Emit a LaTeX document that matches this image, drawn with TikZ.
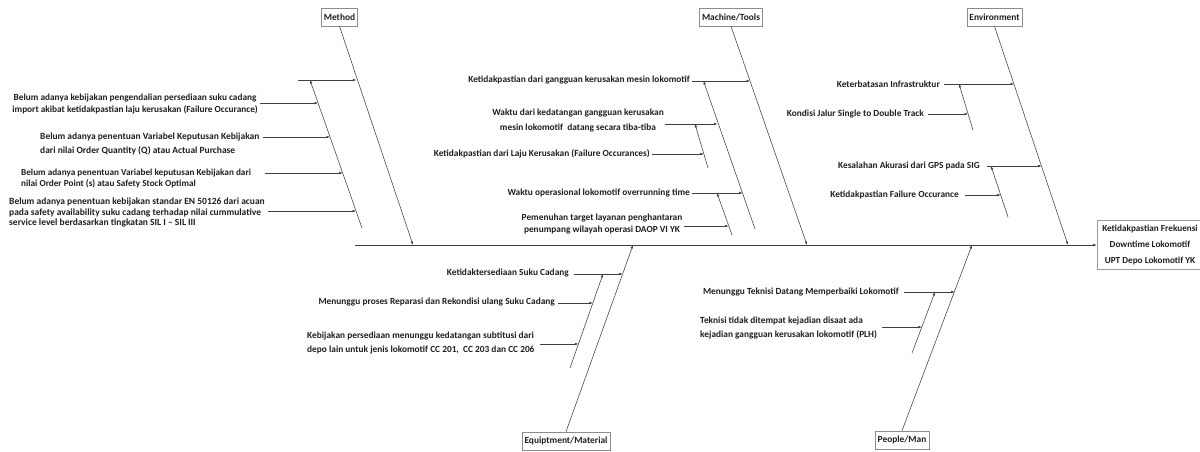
\documentclass[tikz,border=0pt]{standalone}
\usepackage{fontspec}
\setmainfont{Carlito}
\usetikzlibrary{arrows.meta}
\newcommand{\fs}[2]{\fontsize{#1}{#2}\selectfont\bfseries}
\begin{document}
\begin{tikzpicture}[x=1pt,y=-1pt,
  bone/.style={draw=black!75,line width=0.55pt,-{Latex[length=3.5pt,width=2.6pt]}},
  txt/.style={inner sep=0pt,font=\fs{9.35}{12},text=black!88},
  cat/.style={draw=black!45,line width=0.6pt,fill=white,inner sep=2.5pt,minimum height=18pt,font=\fs{9.4}{11},text=black!88},
  headbox/.style={draw=black!40,line width=0.6pt,fill=white,align=center,inner sep=3pt,minimum width=106pt,minimum height=49pt,font=\fs{9.2}{16},text=black!88}
]
\useasboundingbox (0,0) rectangle (1200,452);
\fill[white] (0,0) rectangle (1200,452);

% ---------- head and spine ----------
\node[headbox] (head) at (1150,244.5) {Ketidakpastian Frekuensi\\Downtime Lokomotif\\UPT Depo Lokomotif YK};
\coordinate (spineL) at (355,245);
\draw[bone] (spineL) -- (head.west |- spineL);

% ---------- category boxes ----------
\node[cat] (method) at (339.5,17) {Method};
\node[cat] (machine) at (731,17) {Machine/Tools};
\node[cat] (env) at (994.5,17) {Environment};
\node[cat] (equip) at (566,441) {Equiptment/Material};
\node[cat] (people) at (902,440) {People/Man};

% main bones
\coordinate (mB) at (413,245);
\coordinate (kB) at (807,245);
\coordinate (eB) at (1068,245);
\coordinate (qB) at (633,245);
\coordinate (pB) at (972,245);
\draw[bone] (method.south) -- (mB);
\draw[bone] (machine.south) -- (kB);
\draw[bone] (env.south) -- (eB);
\draw[bone] (equip.north) -- (qB);
\draw[bone] (people.north) -- (pB);

% ---------- Method ----------
\coordinate (m0s) at (298,80);
\coordinate (m0e) at (356.4,80);
\draw[bone] (m0s) -- (m0e);
\coordinate (mdB) at (362,228);
\coordinate (mdT) at (310,80);
\draw[bone] (mdB) -- (mdT);

\node[txt,align=center,anchor=east,font=\fs{9.3}{12}] (m1) at (258,104)
  {Belum adanya kebijakan pengendalian persediaan suku cadang\\import akibat ketidakpastian laju kerusakan (Failure Occurance)};
\coordinate (m1s) at (260,103);
\coordinate (m1e) at (318.1,103);
\draw[bone] (m1s) -- (m1e);

\node[txt,align=left,anchor=west,font=\fs{9.45}{14}] (m2) at (40,143.5)
  {Belum adanya penentuan Variabel Keputusan Kebijakan\\dari nilai Order Quantity (Q) atau Actual Purchase};
\coordinate (m2s) at (263,137);
\coordinate (m2e) at (330,137);
\draw[bone] (m2s) -- (m2e);

\node[txt,align=left,anchor=west,font=\fs{9.2}{11.5}] (m3) at (21,178.5)
  {Belum adanya penentuan Variabel keputusan Kebijakan dari\\nilai Order Point (s) atau Safety Stock Optimal};
\coordinate (m3s) at (265,173);
\coordinate (m3e) at (342.7,173);
\draw[bone] (m3s) -- (m3e);

\node[txt,align=left,anchor=west,font=\fs{9.5}{10.8}] (m4) at (9,212.5)
  {Belum adanya penentuan kebijakan standar EN 50126 dari acuan\\pada safety availability suku cadang terhadap nilai cummulative\\service level berdasarkan tingkatan SIL I -- SIL III};
\coordinate (m4s) at (268,211);
\coordinate (m4e) at (356,211);
\draw[bone] (m4s) -- (m4e);

% ---------- Machine/Tools ----------
\node[txt,anchor=east] (k1) at (690,80) {Ketidakpastian dari gangguan kerusakan mesin lokomotif};
\coordinate (k1s) at (692,81);
\coordinate (k1e) at (750,81);
\draw[bone] (k1s) -- (k1e);
\coordinate (kAB) at (755,229);
\coordinate (kAT) at (703.5,81);
\draw[bone] (kAB) -- (kAT);

\node[txt,align=center,font=\fs{9.35}{15}] (k2) at (578,120.5)
  {Waktu dari kedatangan gangguan kerusakan\\mesin lokomotif \ datang secara tiba-tiba};
\coordinate (k2s) at (665,124);
\coordinate (k2e) at (717.5,124);
\draw[bone] (k2s) -- (k2e);
\coordinate (kBB) at (708,168);
\coordinate (kBT) at (695,124);
\draw[bone] (kBB) -- (kBT);

\node[txt,anchor=east] (k3) at (650,154) {Ketidakpastian dari Laju Kerusakan (Failure Occurances)};
\coordinate (k3s) at (652,154);
\coordinate (k3e) at (703.9,154);
\draw[bone] (k3s) -- (k3e);

\node[txt,anchor=east] (k4) at (690,193) {Waktu operasional lokomotif overrunning time};
\coordinate (k4s) at (692,193);
\coordinate (k4e) at (742.5,193);
\draw[bone] (k4s) -- (k4e);
\coordinate (kCB) at (732,235);
\coordinate (kCT) at (717,193);
\draw[bone] (kCB) -- (kCT);

\node[txt,align=center,font=\fs{9.35}{12}] (k5) at (602,224)
  {Pemenuhan target layanan penghantaran\\penumpang wilayah operasi DAOP VI YK};
\coordinate (k5s) at (684,226);
\coordinate (k5e) at (728.6,226);
\draw[bone] (k5s) -- (k5e);

% ---------- Environment ----------
\node[txt,anchor=east] (e1) at (940,84) {Keterbatasan Infrastruktur};
\coordinate (e1s) at (944,84);
\coordinate (e1e) at (1014.1,84);
\draw[bone] (e1s) -- (e1e);
\coordinate (eAB) at (973,130);
\coordinate (eAT) at (959,84);
\draw[bone] (eAB) -- (eAT);

\node[txt,anchor=east] (e2) at (924,114) {Kondisi Jalur Single to Double Track};
\coordinate (e2s) at (928,114);
\coordinate (e2e) at (968.1,114);
\draw[bone] (e2s) -- (e2e);

\node[txt,anchor=east] (e3) at (980,166) {Kesalahan Akurasi dari GPS pada SIG};
\coordinate (e3s) at (987,166);
\coordinate (e3e) at (1041.6,166);
\draw[bone] (e3s) -- (e3e);
\coordinate (eBB) at (1008,217);
\coordinate (eBT) at (991,166);
\draw[bone] (eBB) -- (eBT);

\node[txt,anchor=east] (e4) at (959,195) {Ketidakpastian Failure Occurance};
\coordinate (e4s) at (965,195);
\coordinate (e4e) at (1000.7,195);
\draw[bone] (e4s) -- (e4e);

% ---------- Equipment/Material ----------
\node[txt,anchor=east] (q1) at (569,273) {Ketidaktersediaan Suku Cadang};
\coordinate (q1s) at (574,274);
\coordinate (q1e) at (622.6,274);
\draw[bone] (q1s) -- (q1e);
\coordinate (qAB) at (570,368);
\coordinate (qAT) at (603,274);
\draw[bone] (qAB) -- (qAT);

\node[txt,anchor=east] (q2) at (555,302) {Menunggu proses Reparasi dan Rekondisi ulang Suku Cadang};
\coordinate (q2s) at (558,303);
\coordinate (q2e) at (592.8,303);
\draw[bone] (q2s) -- (q2e);

\node[txt,align=left,anchor=west,font=\fs{9.35}{14}] (q3) at (307,343)
  {Kebijakan persediaan menunggu kedatangan subtitusi dari\\depo lain untuk jenis lokomotif CC 201, \ CC 203 dan CC 206};
\coordinate (q3s) at (540,344);
\coordinate (q3e) at (578.4,344);
\draw[bone] (q3s) -- (q3e);

% ---------- People/Man ----------
\node[txt,anchor=east] (p1) at (899,292) {Menunggu Teknisi Datang Memperbaiki Lokomotif};
\coordinate (p1s) at (904,292);
\coordinate (p1e) at (954.7,292);
\draw[bone] (p1s) -- (p1e);
\coordinate (pAB) at (912,353);
\coordinate (pAT) at (935,292);
\draw[bone] (pAB) -- (pAT);

\node[txt,align=left,anchor=west,font=\fs{9.35}{14}] (p2) at (700,328)
  {Teknisi tidak ditempat kejadian disaat ada\\kejadian gangguan kerusakan lokomotif (PLH)};
\coordinate (p2s) at (882,327);
\coordinate (p2e) at (921.8,327);
\draw[bone] (p2s) -- (p2e);
\end{tikzpicture}
\end{document}
